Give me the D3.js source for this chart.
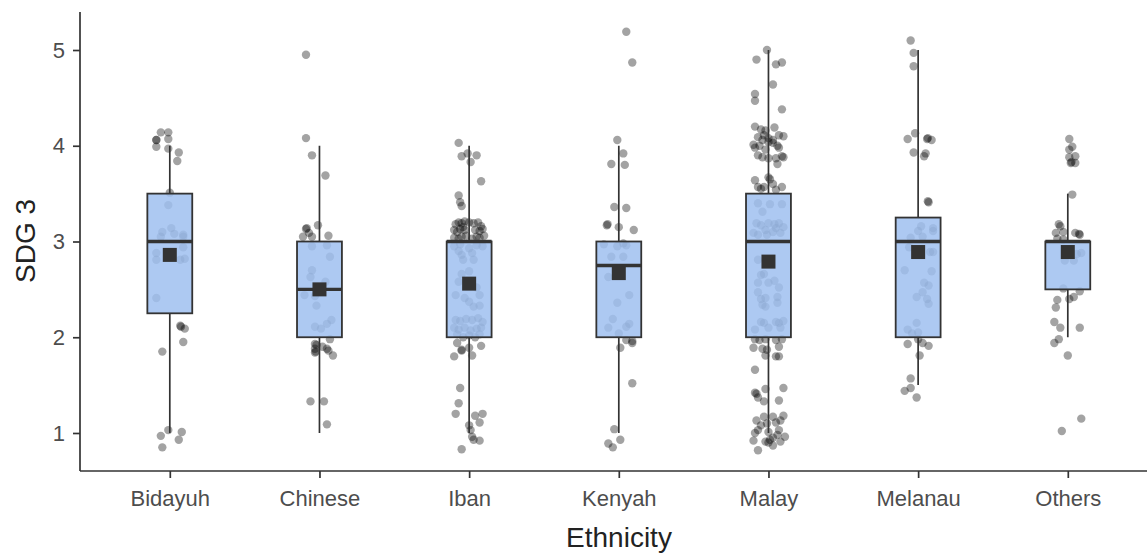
<!DOCTYPE html>
<html><head><meta charset="utf-8">
<script src="https://cdn.jsdelivr.net/npm/d3@7"></script>
<style>body{margin:0;background:#fff}</style>
</head><body><svg id="chart" width="1147" height="555"></svg>
<script>
const categories = ["Bidayuh","Chinese","Iban","Kenyah","Malay","Melanau","Others"];
const yTicks = [1,2,3,4,5];
const whiskerLow  = [1.0, 1.0, 1.0, 1.0, 1.0, 1.5, 2.0];
const q1          = [2.25, 2.0, 2.0, 2.0, 2.0, 2.0, 2.5];
const medians     = [3.0, 2.5, 3.0, 2.75, 3.0, 3.0, 3.0];
const q3          = [3.5, 3.0, 3.0, 3.0, 3.5, 3.25, 3.0];
const whiskerHigh = [4.0, 4.0, 4.0, 4.0, 5.0, 5.0, 3.5];
const means       = [2.86, 2.50, 2.56, 2.67, 2.79, 2.89, 2.89];

// [jitter (category units), value]
const ptsBidayuh = [[-0.06,4.14],[-0.01,4.14],[-0.09,4.06],[-0.09,4.06],[-0.01,4.07],[-0.09,3.99],[-0.01,3.97],[0.06,3.93],[0.05,3.84],[0,3.51],[-0.01,3.38],[-0.05,3.10],[-0.06,3.05],[0.01,3.14],[0.03,3.08],[0.09,3.07],[0.09,3.05],[-0.09,2.88],[-0.09,2.81],[0.09,2.94],[0.1,2.82],[0.07,2.81],[-0.09,2.41],[0.07,2.12],[0.075,2.11],[0.1,2.09],[0.09,1.95],[-0.05,1.85],[-0.01,1.03],[-0.06,0.97],[0.08,1.01],[0.06,0.93],[-0.05,0.85]];
const ptsChinese = [[-0.09,4.95],[-0.09,4.08],[-0.05,3.90],[0.04,3.69],[-0.01,3.17],[-0.09,3.13],[-0.085,3.14],[-0.07,3.09],[-0.11,3.05],[-0.05,3.05],[0.06,3.06],[-0.05,2.95],[0.05,2.96],[0.07,2.84],[-0.05,2.70],[-0.06,2.63],[0.04,2.58],[-0.1,2.44],[-0.03,2.43],[-0.02,2.33],[0.08,2.18],[0.05,2.14],[-0.03,2.11],[0.01,2.09],[0.07,1.98],[-0.02,1.92],[-0.03,1.93],[-0.03,1.88],[-0.03,1.84],[-0.025,1.85],[0.02,1.90],[0.05,1.88],[0.06,1.86],[0.09,1.81],[-0.06,1.33],[0.03,1.33],[0.05,1.09]];
const ptsIban = [[-0.07,4.03],[-0.01,3.92],[-0.05,3.89],[0.05,3.90],[0.01,3.83],[0.08,3.63],[-0.07,3.48],[-0.06,3.41],[-0.05,3.37],
 [-0.09,3.18],[-0.07,3.2],[-0.05,3.19],[-0.03,3.21],[0.0,3.2],[0.03,3.19],[0.06,3.2],[0.08,3.16],[-0.1,3.12],[-0.08,3.1],[-0.06,3.13],[-0.04,3.15],[0.04,3.12],[0.07,3.11],[0.09,3.13],[-0.1,3.04],[-0.07,3.03],[-0.05,3.05],[-0.02,3.06],[0.02,3.03],[0.05,3.05],[0.07,3.04],[0.1,3.06],[-0.03,3.12],
 [-0.1,2.95],[-0.06,2.97],[0.0,2.93],[0.05,2.96],[0.09,2.95],[-0.07,2.9],[0.02,2.88],[-0.04,2.81],[0.03,2.81],[-0.05,2.86],[0.0,2.69],[-0.05,2.66],[-0.07,2.58],[-0.09,2.44],[-0.03,2.41],[0.0,2.37],[0.03,2.32],[0.07,2.33],[0.07,2.44],[0.05,2.52],
 [-0.09,2.18],[-0.06,2.17],[-0.02,2.19],[0.02,2.18],[0.06,2.2],[0.09,2.16],[-0.1,2.1],[-0.07,2.08],[-0.03,2.1],[0.01,2.07],[0.05,2.09],[0.08,2.1],[-0.08,2.03],[-0.04,2.0],[0.0,2.02],[0.04,2.0],[0.07,2.03],
 [-0.08,1.94],[-0.05,1.86],[-0.05,1.87],[0.0,1.89],[0.08,1.91],[-0.1,1.80],[0.02,1.81],[-0.06,1.47],[-0.07,1.31],[-0.09,1.20],[0.04,1.18],[0.09,1.20],[0.07,1.11],[0.0,1.08],[0.01,1.03],[0.02,0.96],[0.07,0.92],[0.03,0.93],[-0.05,0.83]];
const ptsKenyah = [[0.05,5.19],[0.09,4.87],[-0.01,4.06],[0.03,3.92],[-0.05,3.81],[0.04,3.80],[-0.03,3.36],[0.05,3.35],[-0.08,3.17],[-0.075,3.18],[0.0,3.15],[0.1,3.12],[-0.1,2.97],[-0.01,2.95],[0.03,2.98],[0.05,2.96],[-0.05,2.84],[0.03,2.84],[-0.07,2.63],[0.07,2.44],[-0.01,2.36],[-0.04,2.19],[0.07,2.14],[0.05,2.11],[-0.07,2.10],[0.0,2.04],[0.05,1.97],[0.09,1.96],[0.09,1.94],[0.01,1.89],[0.09,1.52],[-0.03,1.04],[0.01,0.93],[-0.07,0.89],[-0.04,0.85]];
const ptsMalay = [[-0.01,5.00],[-0.08,4.90],[0.05,4.85],[0.09,4.87],[0.03,4.64],[-0.09,4.54],[-0.09,4.47],[0.09,4.38],
 [-0.09,4.20],[-0.05,4.17],[-0.02,4.16],[0.04,4.19],[0.07,4.11],[0.10,4.10],[-0.07,4.09],[0.0,4.08],[-0.04,4.06],[-0.10,4.01],[-0.06,4.00],[0.03,4.03],[0.06,4.00],[-0.09,3.98],[-0.02,3.96],[0.07,3.98],[-0.07,3.90],[0.09,3.89],[0.05,3.87],[0.10,3.88],[0.0,3.87],[-0.04,3.88],[0.06,3.81],[0.0,4.04],[0.03,4.06],[-0.03,4.11],
 [-0.09,3.64],[0.0,3.67],[0.01,3.65],[-0.07,3.57],[-0.03,3.57],[0.03,3.60],[0.09,3.57],[0.05,3.54],[-0.05,3.55],
 [-0.07,3.40],[0.01,3.39],[-0.04,3.31],[0.09,3.39],[-0.08,3.19],[-0.05,3.17],[0.0,3.19],[0.04,3.18],[0.07,3.19],[0.10,3.15],[-0.02,3.12],[0.03,3.10],[-0.10,3.09],[-0.07,3.07],[0.08,3.09],[-0.01,3.07],[0.05,3.14],
 [-0.07,2.81],[-0.05,2.65],[-0.03,2.66],[-0.07,2.57],[0.0,2.57],[0.04,2.59],[0.07,2.52],[-0.07,2.47],[-0.05,2.40],[-0.02,2.41],[0.06,2.42],[0.06,2.36],[-0.04,2.34],[-0.02,2.32],[-0.05,2.16],[-0.03,2.15],[0.05,2.16],[0.07,2.15],[0.10,2.17],[0.0,2.10],[0.08,2.10],[-0.09,2.08],
 [-0.09,1.98],[-0.06,1.97],[-0.02,1.98],[0.05,1.97],[0.09,1.98],[-0.10,1.89],[-0.04,1.88],[-0.01,1.87],[0.07,1.90],[-0.02,1.81],[0.05,1.80],[0.07,1.80],
 [-0.09,1.66],[-0.09,1.42],[-0.08,1.41],[-0.02,1.46],[0.10,1.47],[-0.07,1.37],[-0.03,1.33],[0.07,1.34],
 [-0.08,1.13],[-0.03,1.17],[0.03,1.17],[0.10,1.18],[-0.05,1.08],[0.05,1.11],[0.08,1.13],[-0.01,1.10],[-0.07,1.03],[0.0,1.01],[0.07,1.03],[-0.09,1.00],[0.06,0.98],[0.11,0.96],[-0.10,0.92],[-0.02,0.91],[0.01,0.93],[0.03,0.95],[0.08,0.91],[0.0,0.90],[0.03,0.87],[-0.07,0.82]];
const ptsMelanau = [[-0.05,5.10],[-0.03,4.97],[-0.03,4.83],[-0.02,4.13],[-0.07,4.07],[0.06,4.07],[0.065,4.08],[0.09,4.06],[-0.03,3.93],[0.05,3.92],[0.04,3.89],[0.07,3.41],[0.065,3.42],[0.02,3.16],[0.0,3.11],[0.10,3.14],[0.10,3.11],[-0.05,3.04],[0.03,3.05],[-0.06,2.94],[0.08,2.89],[0.10,2.89],[-0.09,2.70],[0.09,2.69],[0.04,2.57],[0.07,2.54],[0.03,2.47],[-0.01,2.42],[0.06,2.40],[0.07,2.35],[-0.01,2.15],[-0.07,2.08],[-0.04,2.04],[0.0,2.05],[0.0,1.98],[0.03,1.94],[-0.07,1.93],[0.07,1.91],[0.01,1.81],[-0.05,1.57],[-0.05,1.47],[-0.09,1.44],[-0.01,1.37]];
const ptsOthers = [[0.01,4.07],[0.03,3.99],[0.01,3.96],[0.05,3.89],[0.01,3.88],[0.02,3.82],[0.025,3.83],[0.05,3.82],[0.03,3.49],[-0.06,3.18],[-0.05,3.16],[-0.08,3.09],[-0.03,3.10],[0.05,3.09],[0.08,3.07],[0.075,3.08],[-0.07,3.03],[-0.03,3.02],[0.09,2.88],[0.06,2.87],[-0.02,2.80],[0.04,2.80],[-0.03,2.51],[0.08,2.48],[0.01,2.40],[0.04,2.42],[-0.07,2.39],[-0.08,2.31],[-0.09,2.16],[-0.05,2.10],[0.08,2.10],[-0.06,1.98],[-0.09,1.94],[0.0,1.81],[0.09,1.15],[-0.04,1.02]];
const pointSets = [ptsBidayuh, ptsChinese, ptsIban, ptsKenyah, ptsMalay, ptsMelanau, ptsOthers];

const svg = d3.select("#chart");
const mLeft = 80, mRight = 1157.6, mTop = 12, mBottom = 471;
const x = d3.scalePoint().domain(categories).range([mLeft, mRight]).padding(0.6);
const y = d3.scaleLinear().domain([0.603, 5.397]).range([mBottom, mTop]);
const step = x.step();
const boxW = 0.3 * step;
const font = "'Liberation Sans', Arial, Helvetica, sans-serif";

// jittered points
categories.forEach((c, i) => {
  svg.append("g").selectAll("circle").data(pointSets[i]).join("circle")
    .attr("cx", d => x(c) + d[0] * step)
    .attr("cy", d => y(d[1]))
    .attr("r", 4.2)
    .attr("fill", "#000")
    .attr("fill-opacity", 0.36);
});

// boxplots
const g = svg.append("g");
categories.forEach((c, i) => {
  const cx = x(c);
  g.append("line").attr("x1", cx).attr("x2", cx).attr("y1", y(q3[i])).attr("y2", y(whiskerHigh[i]))
    .attr("stroke", "#333").attr("stroke-width", 1.7);
  g.append("line").attr("x1", cx).attr("x2", cx).attr("y1", y(q1[i])).attr("y2", y(whiskerLow[i]))
    .attr("stroke", "#333").attr("stroke-width", 1.7);
  g.append("rect").attr("x", cx - boxW / 2).attr("width", boxW)
    .attr("y", y(q3[i])).attr("height", y(q1[i]) - y(q3[i]))
    .attr("fill", "#9fc0f0").attr("fill-opacity", 0.85)
    .attr("stroke", "#333").attr("stroke-width", 1.8);
  g.append("line").attr("x1", cx - boxW / 2).attr("x2", cx + boxW / 2)
    .attr("y1", y(medians[i])).attr("y2", y(medians[i]))
    .attr("stroke", "#333").attr("stroke-width", 3.4);
  g.append("rect").attr("x", cx - 7).attr("y", y(means[i]) - 7).attr("width", 14).attr("height", 14)
    .attr("fill", "#333");
});

// axes
const yAxis = svg.append("g").attr("transform", `translate(${mLeft},0)`)
  .call(d3.axisLeft(y).tickValues(yTicks).tickSize(7).tickPadding(8).tickFormat(d3.format("d")));
const xAxis = svg.append("g").attr("transform", `translate(0,${mBottom})`)
  .call(d3.axisBottom(x).tickSize(7).tickPadding(12));
[yAxis, xAxis].forEach(a => {
  a.select(".domain").attr("stroke", "#333").attr("stroke-width", 1.7);
  a.selectAll(".tick line").attr("stroke", "#333").attr("stroke-width", 1.7);
  a.selectAll(".tick text").attr("fill", "#4d4d4d").style("font-family", font).style("font-size", "22px");
});
yAxis.select(".domain").attr("d", `M0,${mBottom}V${mTop}`);
xAxis.select(".domain").attr("d", `M${mLeft},0H1147`);

svg.append("text").attr("x", 619).attr("y", 547).attr("text-anchor", "middle")
  .style("font-family", font).style("font-size", "28px").attr("fill", "#222").text("Ethnicity");
svg.append("text").attr("transform", "translate(35,241) rotate(-90)").attr("text-anchor", "middle")
  .style("font-family", font).style("font-size", "28px").attr("fill", "#222").text("SDG 3");
</script></body></html>
